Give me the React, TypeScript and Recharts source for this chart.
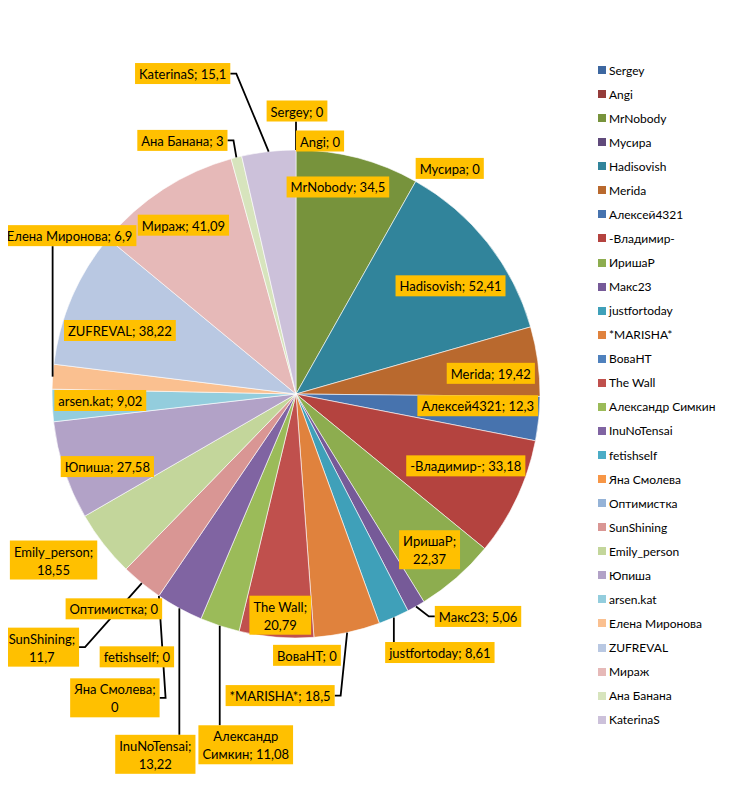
import React from 'react';
import { PieChart, Pie, Cell, Legend } from 'recharts';

// participants, in the order the slices go round (clockwise from 12 o'clock)
const names = [
  'Sergey', 'Angi', 'MrNobody', 'Мусира', 'Hadisovish', 'Merida',
  'Алексей4321', '-Владимир-', 'ИришаР', 'Макс23', 'justfortoday', '*MARISHA*',
  'ВоваНТ', 'The Wall', 'Александр Симкин', 'InuNoTensai', 'fetishself', 'Яна Смолева',
  'Оптимистка', 'SunShining', 'Emily_person', 'Юпиша', 'arsen.kat', 'Елена Миронова',
  'ZUFREVAL', 'Мираж', 'Ана Банана', 'KaterinaS',
];

const values = [
  0, 0, 34.5, 0, 52.41, 19.42,
  12.3, 33.18, 22.37, 5.06, 8.61, 18.5,
  0, 20.79, 11.08, 13.22, 0, 0,
  0, 11.7, 18.55, 27.58, 9.02, 6.9,
  38.22, 41.09, 3, 15.1,
];

const colors = [
  '#3D67A0', '#953C3A', '#77933C', '#604A7B', '#31849B', '#B9692E',
  '#4773AE', '#B4433F', '#8DAD4F', '#765A98', '#3FA0B9', '#E0823D',
  '#4F81BD', '#C0504D', '#9BBB59', '#8064A2', '#4BACC6', '#F79646',
  '#95B3D7', '#D99694', '#C3D69B', '#B2A2C7', '#93CDDD', '#FAC090',
  '#B9C8E2', '#E6B9B8', '#D7E4BD', '#CCC1DA',
];

// where a few labels wrap onto a second line
const breaks: Record<number, string> = {
  8: 'ИришаР;\n22,37',
  13: 'The Wall;\n20,79',
  14: 'Александр\nСимкин; 11,08',
  15: 'InuNoTensai;\n13,22',
  17: 'Яна Смолева;\n0',
  19: 'SunShining;\n11,7',
  20: 'Emily_person;\n18,55',
};

const data = names.map((name, i) => ({ name, value: values[i] }));

// label placement: offset of the box centre from the slice's outer edge point, plus leader kind
const labelPos: [number, number, string][] = [
  [1, -39, 'v'], [24, -9, ''], [-20, 29, ''], [34, -13, ''], [-37, 43, ''], [-47, 12, ''],
  [-61, -13, ''], [-51, -32, ''], [-27, -28, ''], [62, 10, 'e'], [46, 35, 'v'], [-67, 63, 'e'],
  [-7, 18, ''], [4, -22, ''], [26, 119, 'v'], [-24, 146, 'v'], [-22, 61, ''], [-44, 102, 'e'],
  [-45, 13, ''], [-100, 64, 'e'], [-50, 16, ''], [43, -4, ''], [48, -5, ''], [17, -141, 'v'],
  [48, 33, ''], [20, 36, ''], [-54, -17, 'e'], [-86, -78, 'e'],
];

const FONT = 'Lato, "Noto Sans", sans-serif';
const RAD = Math.PI / 180;

let ctx: CanvasRenderingContext2D | null = null;
function textWidth(s: string) {
  if (!ctx && typeof document !== 'undefined') ctx = document.createElement('canvas').getContext('2d');
  if (!ctx) return s.length * 6.5;
  ctx.font = '13px ' + FONT;
  return ctx.measureText(s).width;
}

function labelText(i: number) {
  return breaks[i] ?? `${names[i]}; ${String(values[i]).replace('.', ',')}`;
}

function boxOf(props: any) {
  const { cx, cy, midAngle, outerRadius, index } = props;
  const ax = cx + outerRadius * Math.cos(-midAngle * RAD);
  const ay = cy + outerRadius * Math.sin(-midAngle * RAD);
  const [dx, dy, kind] = labelPos[index];
  const lines = labelText(index).split('\n');
  const w = Math.max(...lines.map(textWidth)) + 8;
  const h = lines.length * 18 + 3;
  const mx = ax + dx;
  const my = ay + dy;
  return { ax, ay, mx, my, w, h, lines, kind, left: mx - w / 2, top: my - h / 2 };
}

function LeaderLine(props: any) {
  const b = boxOf(props);
  if (!b.kind) return null;
  let pts: number[][];
  if (b.kind === 'v') {
    const edge = b.my > b.ay ? b.top : b.top + b.h;
    pts = [[b.ax, b.ay], [b.ax, edge]];
  } else {
    const toLeft = b.mx < b.ax;
    const attach = toLeft ? b.left + b.w : b.left;
    const elbow = toLeft ? attach + 6 : attach - 6;
    pts = [[b.ax, b.ay], [elbow, b.my], [attach, b.my]];
  }
  return (
    <polyline
      points={pts.map((p) => p.join(',')).join(' ')}
      fill="none"
      stroke="#000"
      strokeWidth={1.8}
    />
  );
}

function LabelBox(props: any) {
  const b = boxOf(props);
  return (
    <g>
      <rect x={b.left} y={b.top} width={b.w} height={b.h} fill="#FFC000" />
      {b.lines.map((line, k) => (
        <text
          key={k}
          x={b.mx}
          y={b.top + 11 + k * 18}
          textAnchor="middle"
          dominantBaseline="central"
          fontFamily={FONT}
          fontSize={13}
          fill="#000"
        >
          {line}
        </text>
      ))}
    </g>
  );
}

function SideLegend() {
  return (
    <div style={{ fontFamily: FONT, fontSize: 12, color: '#000' }}>
      {names.map((n, i) => (
        <div key={n} style={{ height: 24.07, display: 'flex', alignItems: 'center', whiteSpace: 'nowrap' }}>
          <span style={{ width: 8, height: 8, background: colors[i], marginRight: 3, display: 'inline-block' }} />
          {n}
        </div>
      ))}
    </div>
  );
}

export default function App() {
  return (
    <div style={{ margin: -8, width: 730, height: 787, position: 'relative', background: '#fff' }}>
      <PieChart width={730} height={787} margin={{ top: 0, right: 0, bottom: 0, left: 0 }}>
        <rect x={1} y={1} width={727} height={784} fill="none" stroke="#9a9a9a" strokeWidth={2} />
        <Pie
          data={data}
          dataKey="value"
          nameKey="name"
          cx={296}
          cy={394}
          outerRadius={244}
          startAngle={90}
          endAngle={-270}
          stroke="#fff"
          strokeWidth={0.6}
          label={LeaderLine}
          labelLine={false}
          isAnimationActive={false}
        >
          {data.map((d, i) => (
            <Cell key={d.name} fill={colors[i]} />
          ))}
        </Pie>
        <Pie
          data={data}
          dataKey="value"
          nameKey="name"
          cx={296}
          cy={394}
          outerRadius={244}
          startAngle={90}
          endAngle={-270}
          fill="none"
          stroke="none"
          label={LabelBox}
          labelLine={false}
          legendType="none"
          isAnimationActive={false}
        />
        <Legend
          layout="vertical"
          align="right"
          verticalAlign="top"
          content={() => <SideLegend />}
          wrapperStyle={{ left: 598, top: 58, width: 128 }}
        />
      </PieChart>
    </div>
  );
}
